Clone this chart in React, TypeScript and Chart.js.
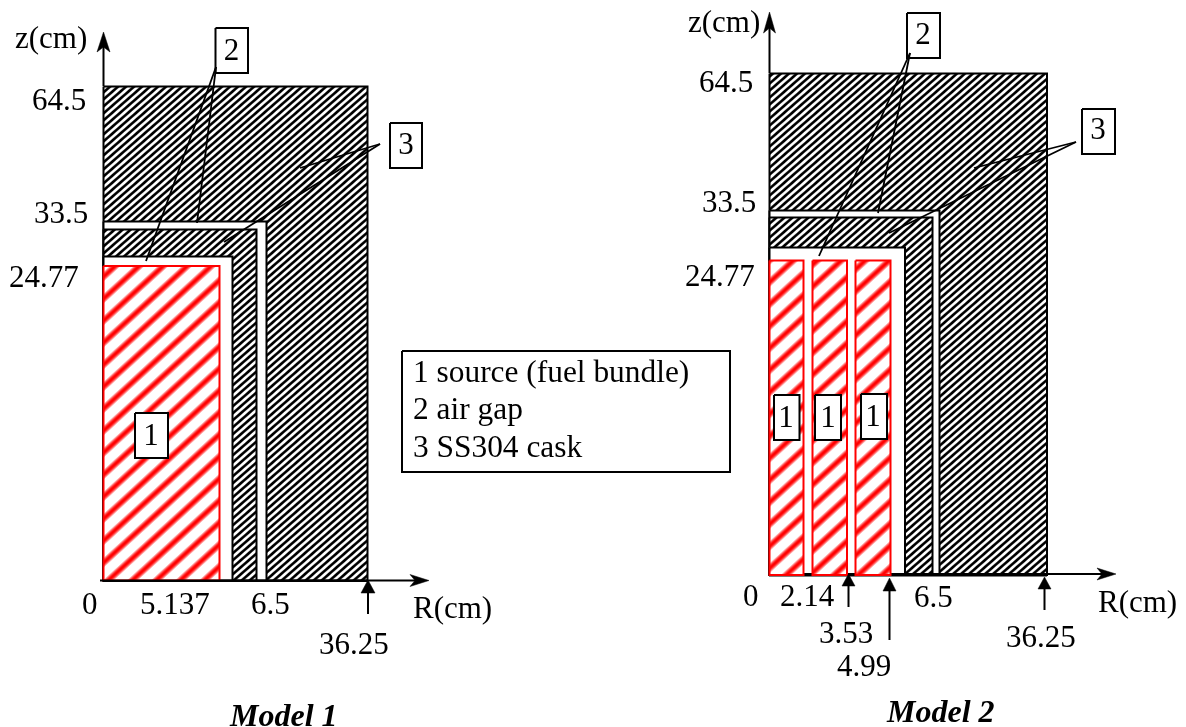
import React, { useEffect, useRef } from "react";
import { Chart, registerables } from "chart.js";

Chart.register(...registerables);

const WIDTH = 1186;
const HEIGHT = 727;

type Pt = [number, number];
type Box = [number, number, number, number];
type Label = [string, number, number];

// Model 1 regions: left, top, right, bottom
const m1Cask: Box = [103.5, 86.5, 367.5, 580.5];
const m1OuterGap: Box = [103.5, 221.5, 266.5, 580.5];
const m1InnerCask: Box = [103.5, 229.5, 256.5, 580.5];
const m1InnerGap: Box = [103.5, 256.5, 232.5, 580.5];
const m1Source: Box[] = [[103.5, 266, 219.5, 580.5]];

// Model 2 regions
const m2Cask: Box = [769.5, 73.5, 1047, 575];
const m2OuterGap: Box = [769.5, 210.5, 939.5, 575];
const m2InnerCask: Box = [769.5, 217.5, 932.5, 575];
const m2InnerGap: Box = [769.5, 247.5, 905, 575];
const m2Source: Box[] = [
  [769.5, 260.5, 803.5, 575],
  [812.5, 260.5, 847, 575],
  [855.5, 260.5, 890.5, 575],
];

// Leader lines and axis shafts
const blackLines: Pt[][] = [
  [[216, 67], [146, 261]],
  [[216, 67], [197, 223]],
  [[380, 144], [300, 168]],
  [[380, 144], [224, 242]],
  [[910, 53], [819, 256]],
  [[910, 53], [878, 213]],
  [[1076, 142], [974, 168]],
  [[1076, 142], [889, 233]],
];
const axisLines: Pt[][] = [
  [[103.5, 86], [103.5, 45]],
  [[100, 580.5], [415, 580.5]],
  [[103, 581], [367.5, 581]],
  [[368, 614], [368, 590]],
  [[769.5, 73], [769.5, 25]],
  [[769, 574], [1105, 574]],
  [[769, 575.5], [1047, 575.5]],
  [[848.5, 607], [848.5, 584]],
  [[889.5, 640], [889.5, 589]],
  [[1044.5, 610], [1044.5, 587]],
];
// Arrow heads
const arrowHeads: Pt[][] = [
  [[103.5, 32], [97, 52], [103.5, 47], [110, 52], [103.5, 32]],
  [[429, 580.5], [410, 574.5], [415, 580.5], [410, 586.5], [429, 580.5]],
  [[368, 580], [361, 593], [375, 593], [368, 580]],
  [[769.5, 12], [763.5, 33], [769.5, 28], [775.5, 33], [769.5, 12]],
  [[1116, 574], [1097, 568], [1102, 574], [1097, 580], [1116, 574]],
  [[848.5, 574], [842, 586], [855, 586], [848.5, 574]],
  [[889.5, 578], [883, 591], [896, 591], [889.5, 578]],
  [[1044.5, 577], [1038, 589], [1051, 589], [1044.5, 577]],
];

// Numbered callout boxes
const calloutBoxes: Box[] = [
  [215.5, 28, 248, 73],
  [390, 123, 422, 168],
  [135, 413, 168, 458],
  [907, 13, 940, 58],
  [1082, 109, 1115, 154],
  [774, 395, 799.5, 440],
  [815, 395, 841, 440],
  [861, 394, 887, 439],
];
const legendBox: Box = [402, 351, 730, 472];

const calloutLabels: Label[] = [
  ["2", 231.5, 60],
  ["3", 406, 154],
  ["1", 151, 445],
  ["2", 923, 44],
  ["3", 1098, 139],
  ["1", 786, 427],
  ["1", 828, 427],
  ["1", 873, 426],
];
const axisLabels: Label[] = [
  ["z(cm)", 15, 48],
  ["R(cm)", 413, 618],
  ["z(cm)", 688, 32],
  ["R(cm)", 1098, 612],
];
const tickLabels: Label[] = [
  ["64.5", 32, 110],
  ["33.5", 34, 223],
  ["24.77", 9, 287],
  ["0", 82, 614],
  ["5.137", 140, 614],
  ["6.5", 251, 614],
  ["36.25", 319, 654],
  ["64.5", 699, 92],
  ["33.5", 702, 212],
  ["24.77", 685, 286],
  ["0", 743, 606],
  ["2.14", 780, 606],
  ["6.5", 914, 607],
  ["3.53", 819, 643],
  ["4.99", 837, 676],
  ["36.25", 1006, 647],
];
const legendLabels: Label[] = [
  ["1 source (fuel bundle)", 413, 382],
  ["2 air gap", 413, 419],
  ["3 SS304 cask", 413, 457],
];
const titleLabels: Label[] = [
  ["Model 1", 230, 726],
  ["Model 2", 887, 722],
];

const SERIF = '"Liberation Serif", "Times New Roman", serif';

function makeHatch(
  px: number,
  py: number,
  ink: [number, number, number],
  sharp: number,
  bias: number,
  phase: number
) {
  const c = document.createElement("canvas");
  c.width = px;
  c.height = py;
  const g = c.getContext("2d")!;
  const img = g.createImageData(px, py);
  for (let y = 0; y < py; y++) {
    for (let x = 0; x < px; x++) {
      const t = (x / px + y / py + phase) * Math.PI * 2;
      const a = Math.max(0, Math.min(1, 0.5 + sharp * (Math.cos(t) + bias)));
      const i = (y * px + x) * 4;
      img.data[i] = 255 + (ink[0] - 255) * a;
      img.data[i + 1] = 255 + (ink[1] - 255) * a;
      img.data[i + 2] = 255 + (ink[2] - 255) * a;
      img.data[i + 3] = 255;
    }
  }
  g.putImageData(img, 0, 0);
  return g.createPattern(c, "repeat")!;
}

const toPts = (p: Pt[]) => p.map(([x, y]) => ({ x, y }));
const rectPts = ([l, t, r, b]: Box) =>
  toPts([[l, t], [r, t], [r, b], [l, b], [l, t]]);

export default function App() {
  const ref = useRef<HTMLCanvasElement>(null);
  useEffect(() => {
    const blackHatch = makeHatch(8, 7, [0, 0, 0], 0.8, 0, 0);
    const redHatch = makeHatch(24, 22, [255, 0, 0], 1.0, -0.5, 0.15);

    const shape = (data: any[], fillStyle: any, stroke: string, w: number) => ({
      data,
      backgroundColor: fillStyle,
      borderColor: stroke,
      borderWidth: w,
      fill: "shape",
    });
    const line = (p: Pt[], w: number) => ({
      data: toPts(p),
      borderColor: "#000",
      borderWidth: w,
      fill: false,
    });

    const layers: any[] = [
      shape(rectPts(m1Cask), blackHatch, "#000", 2),
      shape(rectPts(m1OuterGap), "#fff", "#000", 2),
      shape(rectPts(m1InnerCask), blackHatch, "#000", 2),
      shape(rectPts(m1InnerGap), "#fff", "#000", 2),
      ...m1Source.map((b) => shape(rectPts(b), redHatch, "#f00", 2)),
      shape(rectPts(m2Cask), blackHatch, "#000", 2),
      shape(rectPts(m2OuterGap), "#fff", "#000", 2),
      shape(rectPts(m2InnerCask), blackHatch, "#000", 2),
      shape(rectPts(m2InnerGap), "#fff", "#000", 2),
      ...axisLines.map((p) => line(p, 2)),
      ...m2Source.map((b) => shape(rectPts(b), redHatch, "#f00", 2)),
      ...arrowHeads.map((p) => shape(toPts(p), "#000", "#000", 0.5)),
      ...calloutBoxes.map((b) => shape(rectPts(b), "#fff", "#000", 2)),
      ...blackLines.map((p) => line(p, 1.8)),
      shape(rectPts(legendBox), "#fff", "#000", 2),
    ];
    const n = layers.length;
    layers.forEach((d, i) => {
      d.order = n - i;
      d.clip = false;
      d.pointRadius = 0;
      d.tension = 0;
    });

    const textPlugin = {
      id: "diagramText",
      afterDatasetsDraw(chart: any) {
        const { ctx, scales } = chart;
        const put = (items: Label[], font: string, align: CanvasTextAlign) => {
          ctx.save();
          ctx.font = font;
          ctx.fillStyle = "#000";
          ctx.textAlign = align;
          ctx.textBaseline = "alphabetic";
          items.forEach(([t, x, y]) =>
            ctx.fillText(t, scales.x.getPixelForValue(x), scales.y.getPixelForValue(y))
          );
          ctx.restore();
        };
        put(calloutLabels, `31px ${SERIF}`, "center");
        put(axisLabels, `31px ${SERIF}`, "left");
        put(tickLabels, `31px ${SERIF}`, "left");
        put(legendLabels, `31.4px ${SERIF}`, "left");
        put(titleLabels, `italic bold 32px ${SERIF}`, "left");
      },
    };

    const chart = new Chart(ref.current!, {
      type: "line",
      data: { datasets: layers },
      options: {
        animation: false,
        responsive: false,
        devicePixelRatio: 1,
        events: [],
        layout: { padding: 0 },
        plugins: { legend: { display: false }, tooltip: { enabled: false } },
        scales: {
          x: { type: "linear", display: false, min: 0, max: WIDTH },
          y: { type: "linear", display: false, min: 0, max: HEIGHT, reverse: true },
        },
      },
      plugins: [textPlugin],
    } as any);
    return () => chart.destroy();
  }, []);

  return (
    <div style={{ position: "fixed", left: 0, top: 0, width: WIDTH, height: HEIGHT, background: "#fff" }}>
      <canvas ref={ref} width={WIDTH} height={HEIGHT} style={{ display: "block" }} />
    </div>
  );
}
